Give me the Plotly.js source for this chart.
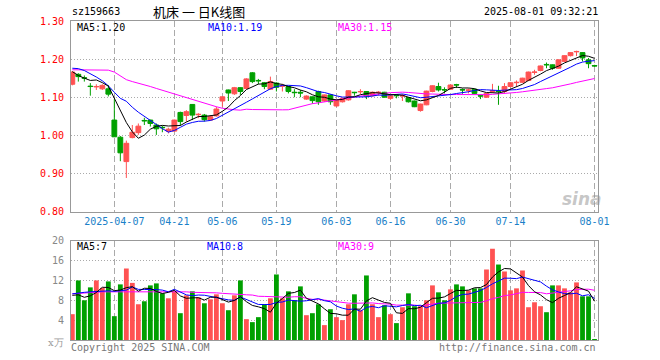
<!DOCTYPE html>
<html>
<head>
<meta charset="utf-8">
<script src="https://cdn.plot.ly/plotly-3.0.1.min.js"></script>
<style>html,body{margin:0;padding:0;background:#fff;}#chart{width:660px;height:360px;}</style>
</head>
<body>
<div id="chart"></div>
<script>
// ---- data ----
const dates = [
"2025-03-26","2025-03-27","2025-03-28","2025-03-31","2025-04-01","2025-04-02","2025-04-03","2025-04-07","2025-04-08","2025-04-09",
"2025-04-10","2025-04-11","2025-04-14","2025-04-15","2025-04-16","2025-04-17","2025-04-18","2025-04-21","2025-04-22","2025-04-23",
"2025-04-24","2025-04-25","2025-04-28","2025-04-29","2025-04-30","2025-05-06","2025-05-07","2025-05-08","2025-05-09","2025-05-12",
"2025-05-13","2025-05-14","2025-05-15","2025-05-16","2025-05-19","2025-05-20","2025-05-21","2025-05-22","2025-05-23","2025-05-26",
"2025-05-27","2025-05-28","2025-05-29","2025-05-30","2025-06-03","2025-06-04","2025-06-05","2025-06-06","2025-06-09","2025-06-10",
"2025-06-11","2025-06-12","2025-06-13","2025-06-16","2025-06-17","2025-06-18","2025-06-19","2025-06-20","2025-06-23","2025-06-24",
"2025-06-25","2025-06-26","2025-06-27","2025-06-30","2025-07-01","2025-07-02","2025-07-03","2025-07-04","2025-07-07","2025-07-08",
"2025-07-09","2025-07-10","2025-07-11","2025-07-14","2025-07-15","2025-07-16","2025-07-17","2025-07-18","2025-07-21","2025-07-22",
"2025-07-23","2025-07-24","2025-07-25","2025-07-28","2025-07-29","2025-07-30","2025-07-31","2025-08-01"];

const openP = [
1.134,1.160,1.151,1.129,1.127,1.122,1.122,1.040,0.995,0.931,
0.994,1.007,1.039,1.040,1.027,1.021,1.011,1.011,1.060,1.052,
1.081,1.054,1.053,1.040,1.051,1.090,1.119,1.109,1.125,1.123,
1.164,1.144,1.138,1.121,1.137,1.129,1.128,1.113,1.113,1.095,
1.101,1.115,1.090,1.106,1.077,1.088,1.093,1.113,1.114,1.115,
1.104,1.112,1.113,1.097,1.105,1.103,1.099,1.090,1.065,1.080,
1.115,1.128,1.120,1.121,1.133,1.120,1.118,1.121,1.104,1.100,
1.115,1.116,1.115,1.128,1.138,1.139,1.144,1.165,1.170,1.186,
1.185,1.176,1.194,1.209,1.219,1.217,1.198,1.183];
const highP = [
1.168,1.163,1.157,1.137,1.134,1.134,1.132,1.095,0.998,0.986,
1.027,1.031,1.046,1.041,1.031,1.025,1.020,1.041,1.062,1.066,
1.082,1.058,1.056,1.052,1.075,1.102,1.120,1.127,1.126,1.150,
1.166,1.148,1.140,1.154,1.139,1.135,1.130,1.121,1.119,1.105,
1.102,1.117,1.107,1.107,1.093,1.099,1.118,1.114,1.121,1.116,
1.115,1.116,1.114,1.105,1.108,1.108,1.100,1.091,1.083,1.117,
1.131,1.138,1.126,1.133,1.135,1.123,1.123,1.122,1.106,1.111,
1.135,1.130,1.137,1.139,1.144,1.151,1.167,1.172,1.183,1.191,
1.186,1.199,1.210,1.218,1.222,1.218,1.203,1.185];
const lowP = [
1.131,1.141,1.141,1.104,1.119,1.119,1.102,0.996,0.932,0.888,
0.992,1.001,1.027,1.023,1.001,1.008,1.005,1.010,1.025,1.036,
1.040,1.045,1.036,1.038,1.049,1.075,1.090,1.106,1.106,1.121,
1.137,1.134,1.121,1.119,1.115,1.115,1.110,1.100,1.100,1.093,
1.083,1.080,1.088,1.080,1.075,1.086,1.091,1.104,1.108,1.095,
1.102,1.104,1.099,1.093,1.097,1.090,1.086,1.074,1.062,1.079,
1.113,1.115,1.110,1.120,1.124,1.109,1.110,1.108,1.095,1.098,
1.111,1.080,1.110,1.126,1.128,1.137,1.142,1.159,1.168,1.176,
1.172,1.175,1.192,1.207,1.208,1.194,1.176,1.180];
const closeP = [
1.166,1.154,1.150,1.128,1.128,1.131,1.108,0.996,0.954,0.979,
1.008,1.024,1.038,1.031,1.017,1.020,1.016,1.040,1.036,1.062,
1.053,1.055,1.041,1.049,1.069,1.101,1.111,1.125,1.115,1.148,
1.141,1.143,1.128,1.141,1.126,1.130,1.115,1.112,1.111,1.103,
1.091,1.088,1.106,1.088,1.092,1.097,1.117,1.112,1.115,1.103,
1.113,1.113,1.100,1.104,1.104,1.104,1.088,1.075,1.082,1.116,
1.130,1.119,1.119,1.132,1.132,1.119,1.119,1.110,1.103,1.110,
1.117,1.115,1.128,1.138,1.139,1.150,1.166,1.166,1.182,1.185,
1.176,1.198,1.209,1.217,1.220,1.203,1.188,1.182];
// volume, in units of 10,000 lots
const volume = [
5.2,12.0,8.0,10.6,12.0,10.5,11.8,4.8,11.2,14.4,
11.5,7.2,7.8,11.0,11.4,9.4,8.4,9.8,5.4,9.0,
9.8,8.6,7.4,8.2,9.2,7.4,6.0,9.0,12.0,4.2,
3.6,4.6,7.2,8.4,13.2,8.4,9.8,8.0,10.8,5.0,
5.4,7.2,3.0,6.2,4.6,4.0,7.2,9.2,6.0,13.0,
7.2,4.6,7.0,5.2,3.4,6.6,9.4,6.8,6.8,8.0,
11.0,9.6,8.0,10.2,11.2,10.8,10.0,10.4,10.4,14.2,
18.4,15.2,13.8,10.0,10.4,14.0,6.6,7.6,6.8,5.6,
11.0,11.0,10.4,9.6,11.6,8.8,8.8,0.2];

// moving-average values at the left edge (window reaches before the visible data)
const ma5Head  = [1.167,1.157,1.150,1.144];
const ma10Head = [1.176,1.175,1.170,1.162,1.153,1.143,1.130,1.113,1.097];
const ma30Head = [1.172,1.172,1.172,1.172,1.172,1.172,1.171,1.166,1.156,1.146,
                  1.141,1.137,1.132,1.128,1.123,1.118,1.113,1.108,1.103,1.098,
                  1.093,1.088,1.084,1.080,1.075,1.071,1.068,1.067,1.066];
const vma5Head  = [9.0,9.1,8.6,8.9];
const vma10Head = [9.3,9.5,9.6,9.7,9.8,9.9,9.9,9.8,9.9];
const vma30Head = [9.3,9.4,9.5,9.6,9.6,9.7,9.7,9.7,9.7,9.8,
                   9.8,9.8,9.8,9.7,9.7,9.7,9.7,9.7,9.7,9.7,
                   9.6,9.6,9.6,9.5,9.5,9.4,9.3,9.3,9.2];

// legend texts as printed on the reference
const priceMaLabels = ["MA5:1.20","MA10:1.19","MA30:1.15"];
const volMaLabels   = ["MA5:7","MA10:8","MA30:9"];

const tickDates  = ["2025-04-07","2025-04-21","2025-05-06","2025-05-19","2025-06-03","2025-06-16","2025-06-30","2025-07-14","2025-08-01"];
const tickLabels = ["2025-04-07","04-21","05-06","05-19","06-03","06-16","06-30","07-14","08-01"];
const priceTicks = [0.80,0.90,1.00,1.10,1.20,1.30];
const volTicks   = [4,8,12,16,20];

const symbol = "sz159663";
const chartTitle = "机床 一 日K线图";
const stamp = "2025-08-01 09:32:21";

// ---- helpers ----
function movingAvg(arr, n, head){
  const out = [];
  for(let i=0;i<arr.length;i++){
    if(i < n-1){ out.push(head[i]); continue; }
    let s = 0; for(let k=i-n+1;k<=i;k++) s += arr[k];
    out.push(s/n);
  }
  return out;
}
const ma5 = movingAvg(closeP,5,ma5Head), ma10 = movingAvg(closeP,10,ma10Head), ma30 = movingAvg(closeP,30,ma30Head);
const vma5 = movingAvg(volume,5,vma5Head), vma10 = movingAvg(volume,10,vma10Head), vma30 = movingAvg(volume,30,vma30Head);

const RED = "#ff5252", GREEN = "#00a000";
const volColors = closeP.map((c,i)=> c >= openP[i] ? RED : GREEN);

const MONO = "DejaVu Sans Mono, Liberation Mono, monospace";
const L = 71, R = 62, T = 21, B = 20, W = 660, H = 360;
const fx = px => (px - L) / (W - L - R);
const fy = py => (H - B - py) / (H - T - B);

const traces = [
  {type:"candlestick", x:dates, open:openP, high:highP, low:lowP, close:closeP,
   xaxis:"x", yaxis:"y", whiskerwidth:0, hoverinfo:"skip",
   increasing:{line:{color:RED,width:1}, fillcolor:RED},
   decreasing:{line:{color:GREEN,width:1}, fillcolor:GREEN}},
  {type:"scatter", mode:"lines", x:dates, y:ma30, xaxis:"x", yaxis:"y", line:{color:"#ff00ff",width:1}, hoverinfo:"skip"},
  {type:"scatter", mode:"lines", x:dates, y:ma10, xaxis:"x", yaxis:"y", line:{color:"#0000ff",width:1}, hoverinfo:"skip"},
  {type:"scatter", mode:"lines", x:dates, y:ma5,  xaxis:"x", yaxis:"y", line:{color:"#000000",width:1}, hoverinfo:"skip"},
  {type:"bar", x:dates, y:volume, xaxis:"x2", yaxis:"y2", marker:{color:volColors, line:{width:0}}, hoverinfo:"skip"},
  {type:"scatter", mode:"lines", x:dates, y:vma30, xaxis:"x2", yaxis:"y2", line:{color:"#ff00ff",width:1}, hoverinfo:"skip"},
  {type:"scatter", mode:"lines", x:dates, y:vma10, xaxis:"x2", yaxis:"y2", line:{color:"#0000ff",width:1}, hoverinfo:"skip"},
  {type:"scatter", mode:"lines", x:dates, y:vma5,  xaxis:"x2", yaxis:"y2", line:{color:"#000000",width:1}, hoverinfo:"skip"}
];

const xRange = [-0.22, dates.length - 0.42];
const baseX = {
  type:"category", range:xRange, showgrid:true, gridcolor:"#aaaaaa", griddash:"6px,3px", gridwidth:1,
  tickvals:tickDates, ticktext:tickLabels, ticks:"", showline:true, mirror:true, linecolor:"#999999", linewidth:1,
  zeroline:false, fixedrange:true, rangeslider:{visible:false}
};

const ann = [];
function txt(text, px, py, anchor, font){
  ann.push({text:text, xref:"paper", yref:"paper", x:fx(px), y:fy(py), xanchor:anchor, yanchor:"middle",
            showarrow:false, font:Object.assign({family:MONO,size:10,color:"#000"},font||{})});
}
txt(symbol, 70, 12, "left");
txt(chartTitle, 151, 11.5, "left", {family:"Noto Sans CJK SC, sans-serif", size:13});
txt(stamp, 600, 12, "right");
txt(priceMaLabels[0], 75, 27.5, "left", {color:"#000"});
txt(priceMaLabels[1], 206, 27.5, "left", {color:"#0000ff"});
txt(priceMaLabels[2], 336, 27.5, "left", {color:"#ff00ff"});
txt(volMaLabels[0], 75, 246, "left", {color:"#000"});
txt(volMaLabels[1], 205, 246, "left", {color:"#0000ff"});
txt(volMaLabels[2], 336, 246, "left", {color:"#ff00ff"});
txt("x万", 66, 342, "right", {color:"#999999", family:"DejaVu Serif, serif", size:10});
txt("Copyright 2025 SINA.COM", 69, 347, "left", {color:"#777777"});
txt("http://finance.sina.com.cn", 598, 347, "right", {color:"#777777"});
txt("<b><i>sina</i></b>", 582, 199, "center", {family:"DejaVu Sans, sans-serif", size:17, color:"rgba(150,150,150,0.55)"});

const layout = {
  width:W, height:H, margin:{l:L, r:R, t:T, b:B, pad:0},
  paper_bgcolor:"#ffffff", plot_bgcolor:"#ffffff", showlegend:false,
  boxgap:0.2, boxgroupgap:0, bargap:0.2, hovermode:false, dragmode:false,
  xaxis: Object.assign({}, baseX, {anchor:"y", showticklabels:true, ticklabelstandoff:0,
         tickfont:{family:MONO, size:10, color:"#1a7fc8"}}),
  xaxis2: Object.assign({}, baseX, {anchor:"y2", showticklabels:false}),
  yaxis: {domain:[fy(211.5), 1], range:[0.80,1.30], tickvals:priceTicks, tickformat:".2f", ticks:"",
          ticklabelstandoff:4, tickfont:{family:MONO, size:10, color:"#ff0000"},
          showgrid:true, gridcolor:"#aaaaaa", griddash:"1px,2px", showline:true, mirror:true,
          linecolor:"#999999", linewidth:1, zeroline:false, fixedrange:true},
  yaxis2: {domain:[0, fy(240.7)], range:[0,20], tickvals:volTicks, ticks:"",
          ticklabelstandoff:4, tickfont:{family:MONO, size:10, color:"#888888"},
          showgrid:true, gridcolor:"#aaaaaa", griddash:"1px,2px", showline:true, mirror:true,
          linecolor:"#999999", linewidth:1, zeroline:false, fixedrange:true},
  annotations: ann
};

Plotly.newPlot("chart", traces, layout, {staticPlot:true, displayModeBar:false});
</script>
</body>
</html>
